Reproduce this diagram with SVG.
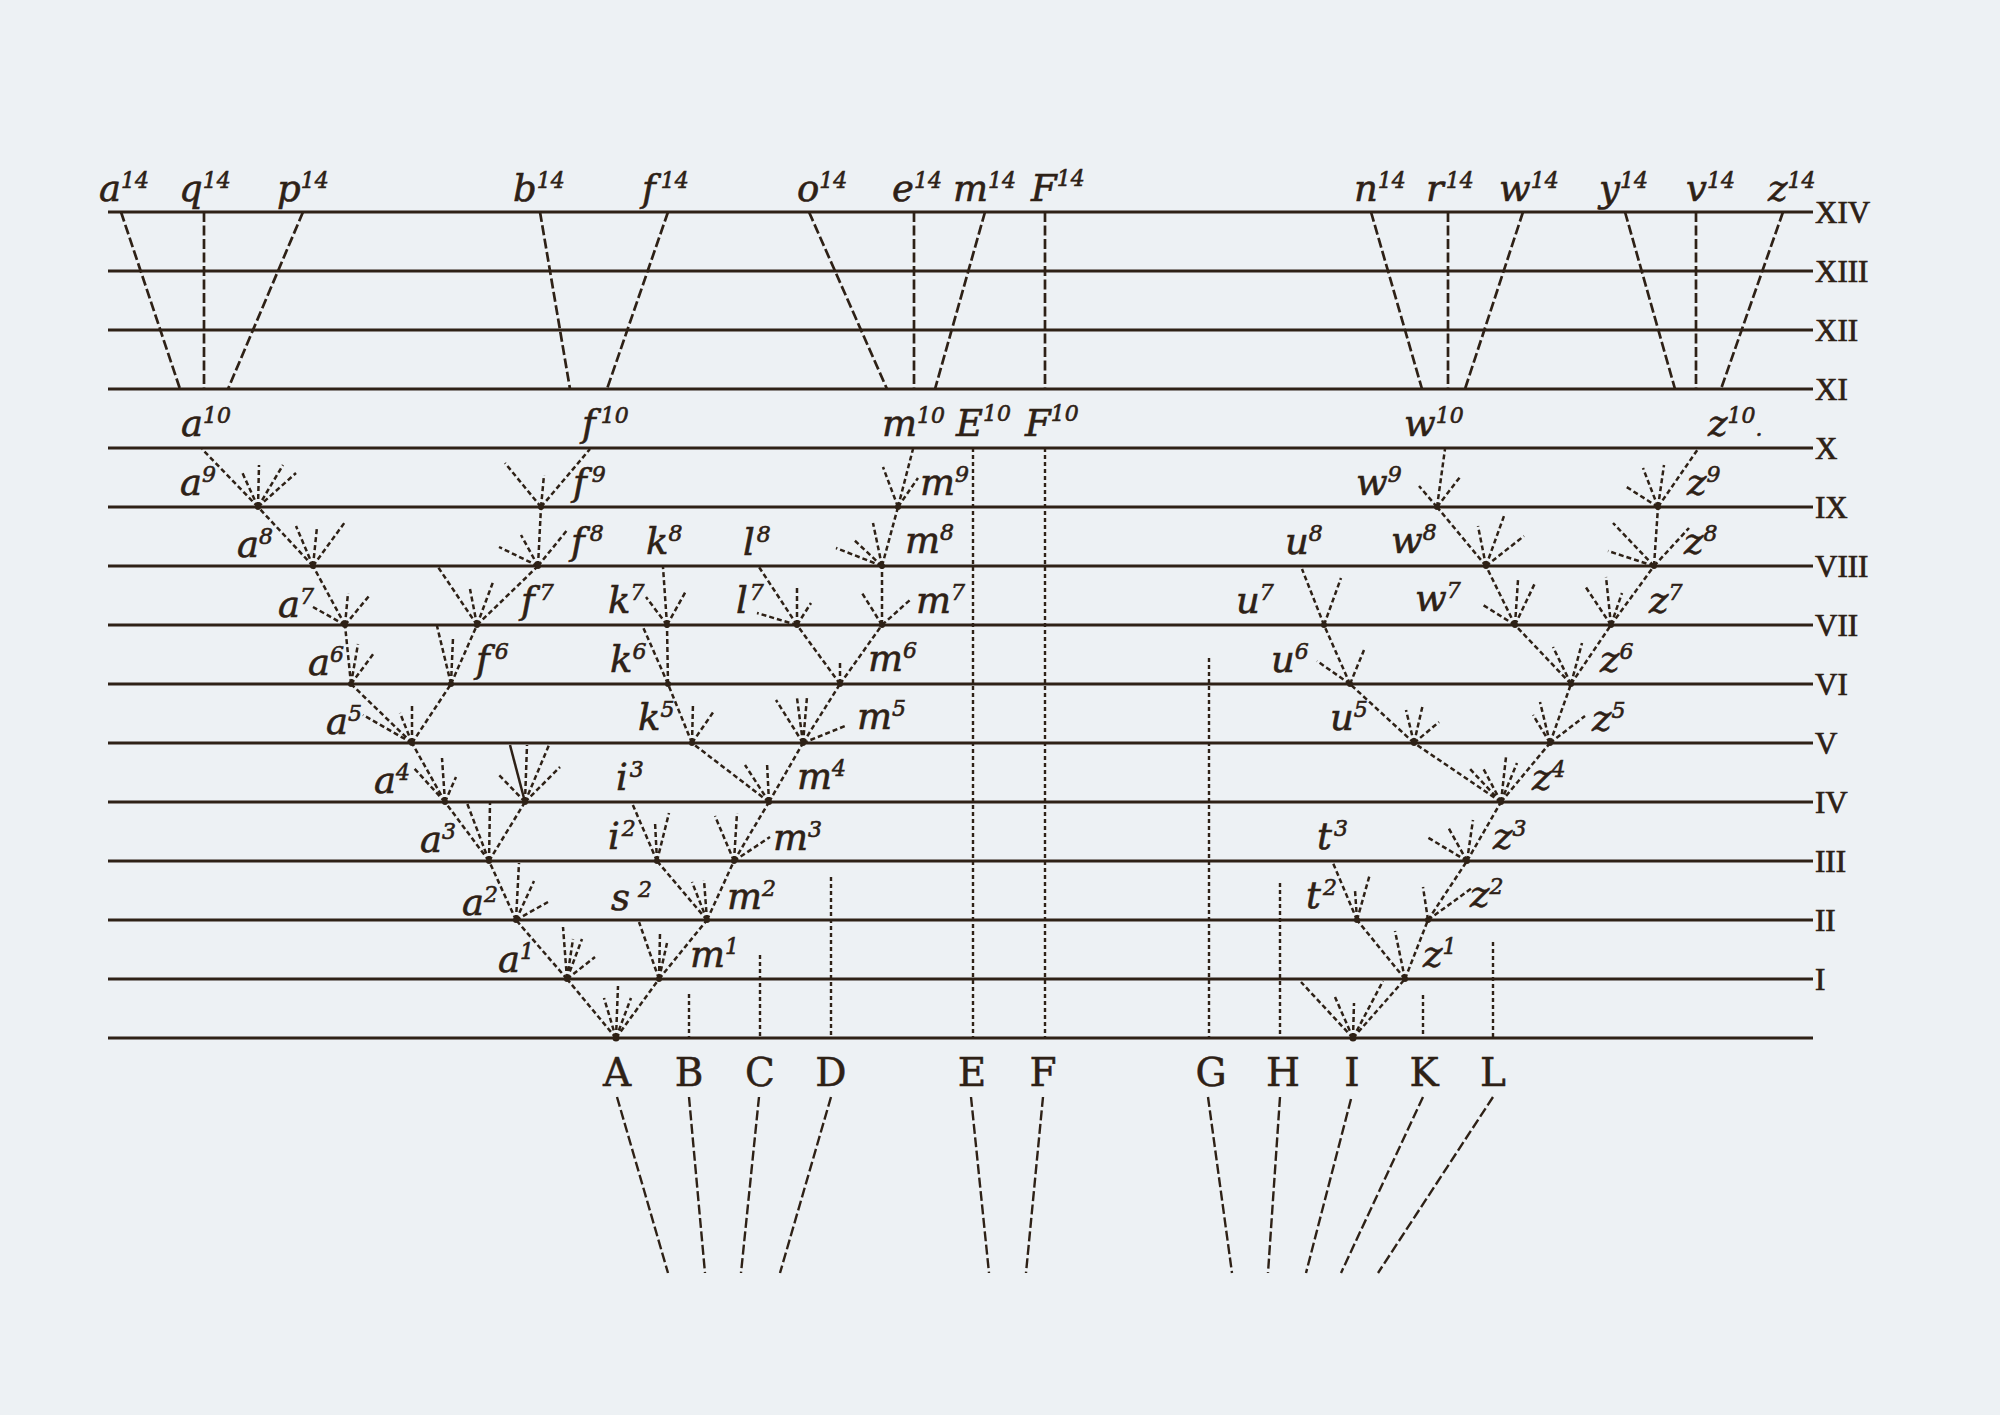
<svg xmlns="http://www.w3.org/2000/svg" width="2000" height="1415" viewBox="0 0 2000 1415">
<style>
  .bg{fill:#edf1f4}
  .h{stroke:#2e2116;stroke-width:2.9;fill:none}
  .top{stroke:#2e2116;stroke-width:2.7;stroke-dasharray:10 3.5;fill:none}
  .fan{stroke:#2e2116;stroke-width:2.5;stroke-dasharray:5 3;fill:none}
  .solid{stroke:#2e2116;stroke-width:2.5;fill:none}
  .dot{stroke:#2e2116;stroke-width:2.4;stroke-dasharray:4 3;fill:none}
  .low{stroke:#2e2116;stroke-width:2.4;stroke-dasharray:10 3.5;fill:none}
  .pt{fill:#2e2116}
  .lb{font-family:"DejaVu Serif",serif;font-style:italic;font-size:37px;fill:#2e2116;stroke:#2e2116;stroke-width:0.6}
  .sup{font-size:22px}
  .rn{font-family:"Liberation Serif",serif;font-size:31px;fill:#2e2116;stroke:#2e2116;stroke-width:0.7}
  .cap{font-family:"DejaVu Serif",serif;font-size:39px;fill:#2e2116;stroke:#2e2116;stroke-width:0.5;text-anchor:middle}
</style>
<rect class="bg" x="0" y="0" width="2000" height="1415"/>

<g id="generations">
  <path class="h" d="M108 212H1813M108 271H1813M108 330H1813M108 389H1813M108 448H1813M108 507H1813M108 566H1813M108 625H1813M108 684H1813M108 743H1813M108 802H1813M108 861H1813M108 920H1813M108 979H1813M108 1038H1813"/>
  <text class="rn" x="1815" y="223">XIV</text>
  <text class="rn" x="1815" y="282">XIII</text>
  <text class="rn" x="1815" y="341">XII</text>
  <text class="rn" x="1815" y="400">XI</text>
  <text class="rn" x="1815" y="459">X</text>
  <text class="rn" x="1815" y="518">IX</text>
  <text class="rn" x="1815" y="577">VIII</text>
  <text class="rn" x="1815" y="636">VII</text>
  <text class="rn" x="1815" y="695">VI</text>
  <text class="rn" x="1815" y="754">V</text>
  <text class="rn" x="1815" y="813">IV</text>
  <text class="rn" x="1815" y="872">III</text>
  <text class="rn" x="1815" y="931">II</text>
  <text class="rn" x="1815" y="990">I</text>
</g>

<g id="connectors">
  <path class="top" d="M121 212L180 389M204 212L204 389M303 212L228 389"/>
  <path class="top" d="M540 212L570 389M668 212L607 389"/>
  <path class="top" d="M809 212L887 389M914 212L914 389M985 212L935 389"/>
  <path class="top" d="M1045 212L1045 389"/>
  <path class="top" d="M1371 212L1422 389M1448 212L1448 389M1523 212L1465 389"/>
  <path class="top" d="M1625 212L1675 389M1696 212L1696 389M1783 212L1721 389"/>

  <path class="dot" d="M973 448V1038M1045 448V1038M1209 658V1038M1280 883V1038M689 994V1038M760 955V1038M831 877V1038M1423 995V1038M1493 942V1038"/>

  <path class="fan" d="M258 507L202 449M258 507L242 472M258 507L259 465M258 507L283 465M258 507L296 473"/>
  <path class="fan" d="M313 566L258 507M313 566L296 526M313 566L317 527M313 566L345 522"/>
  <path class="fan" d="M345 625L313 566M345 625L348 593M345 625L369 596M345 625L313 607"/>
  <path class="fan" d="M351 684L345 625M351 684L358 644M351 684L374 653"/>
  <path class="fan" d="M412 743L351 684M412 743L451 684M412 743L363 715M412 743L400 713M412 743L412 705"/>
  <path class="fan" d="M445 802L412 743M445 802L413 767M445 802L442 758M445 802L456 777"/>
  <path class="solid" d="M525 802L510 745"/>
  <path class="fan" d="M525 802L527 745M525 802L549 745M525 802L499 775M525 802L560 767"/>
  <path class="fan" d="M489 861L445 802M489 861L525 802M489 861L467 803M489 861L490 803"/>
  <path class="fan" d="M516 920L489 861M516 920L519 863M516 920L534 881M516 920L548 902"/>
  <path class="fan" d="M567 979L516 920M567 979L563 927M567 979L573 939M567 979L582 939M567 979L595 957"/>
  <path class="fan" d="M616 1038L567 979M616 1038L659 979M616 1038L604 998M616 1038L618 986M616 1038L631 998"/>
  <path class="fan" d="M659 979L707 920M659 979L639 922M659 979L660 933M659 979L667 943"/>
  <path class="fan" d="M707 920L734 861M707 920L657 861M707 920L692 882M707 920L704 880"/>
  <path class="fan" d="M657 861L632 803M657 861L655 822M657 861L669 813"/>
  <path class="fan" d="M734 861L769 802M734 861L715 816M734 861L737 813M734 861L770 837"/>
  <path class="fan" d="M769 802L803 743M769 802L692 743M769 802L745 765M769 802L767 763"/>
  <path class="fan" d="M692 743L668 684M692 743L693 703M692 743L714 711"/>
  <path class="fan" d="M803 743L840 684M803 743L776 700M803 743L797 698M803 743L807 697M803 743L845 726"/>
  <path class="fan" d="M668 684L667 625M668 684L643 627"/>
  <path class="fan" d="M840 684L882 625M840 684L797 625M840 684L840 662"/>
  <path class="fan" d="M667 625L663 567M667 625L686 591M667 625L646 597"/>
  <path class="fan" d="M797 625L759 567M797 625L797 588M797 625L811 603M797 625L757 613"/>
  <path class="fan" d="M882 625L882 566M882 625L862 593M882 625L910 600"/>
  <path class="fan" d="M882 566L898 507M882 566L873 523M882 566L853 539M882 566L836 548"/>
  <path class="fan" d="M898 507L913 449M898 507L883 467M898 507L918 478"/>
  <path class="fan" d="M451 684L477 625M451 684L437 626M451 684L453 638"/>
  <path class="fan" d="M477 625L538 566M477 625L438 567M477 625L470 589M477 625L493 582"/>
  <path class="fan" d="M538 566L541 507M538 566L499 547M538 566L521 535M538 566L568 529"/>
  <path class="fan" d="M541 507L590 449M541 507L505 463M541 507L544 475"/>

  <path class="fan" d="M1437 507L1445 449M1437 507L1419 486M1437 507L1460 477"/>
  <path class="fan" d="M1658 507L1698 449M1658 507L1625 486M1658 507L1643 468M1658 507L1664 465"/>
  <path class="fan" d="M1486 566L1437 507M1486 566L1478 526M1486 566L1504 516M1486 566L1524 536"/>
  <path class="fan" d="M1654 566L1658 507M1654 566L1613 523M1654 566L1608 551M1654 566L1689 528"/>
  <path class="fan" d="M1324 625L1302 569M1324 625L1341 578"/>
  <path class="fan" d="M1515 625L1486 566M1515 625L1483 605M1515 625L1518 580M1515 625L1535 583"/>
  <path class="fan" d="M1611 625L1654 566M1611 625L1585 586M1611 625L1606 577M1611 625L1622 593"/>
  <path class="fan" d="M1350 684L1324 625M1350 684L1317 661M1350 684L1364 650"/>
  <path class="fan" d="M1571 684L1611 625M1571 684L1515 625M1571 684L1553 647M1571 684L1582 643"/>
  <path class="fan" d="M1414 743L1350 684M1414 743L1406 710M1414 743L1423 704M1414 743L1439 722"/>
  <path class="fan" d="M1550 743L1571 684M1550 743L1533 715M1550 743L1540 702M1550 743L1585 716"/>
  <path class="fan" d="M1501 802L1550 743M1501 802L1414 743M1501 802L1470 769M1501 802L1483 768M1501 802L1506 757M1501 802L1517 763"/>
  <path class="fan" d="M1467 861L1501 802M1467 861L1427 837M1467 861L1448 827M1467 861L1473 820"/>
  <path class="fan" d="M1357 920L1333 863M1357 920L1355 890M1357 920L1370 874"/>
  <path class="fan" d="M1428 920L1467 861M1428 920L1423 887M1428 920L1472 888"/>
  <path class="fan" d="M1405 979L1428 920M1405 979L1357 920M1405 979L1395 931"/>
  <path class="fan" d="M1353 1038L1405 979M1353 1038L1301 982M1353 1038L1335 997M1353 1038L1354 1003M1353 1038L1383 981"/>

  <path class="low" d="M617 1097L668 1273M689 1097L705 1273M759 1097L741 1273M831 1097L780 1273"/>
  <path class="low" d="M971 1097L989 1273M1043 1097L1026 1273"/>
  <path class="low" d="M1208 1097L1232 1273M1280 1097L1268 1273M1351 1099L1306 1273M1423 1097L1341 1273M1493 1097L1378 1273"/>
</g>

<g id="branch-points">
  <circle class="pt" cx="258" cy="507" r="3"/><circle class="pt" cx="313" cy="566" r="3"/><circle class="pt" cx="345" cy="625" r="3"/>
  <circle class="pt" cx="351" cy="684" r="3"/><circle class="pt" cx="412" cy="743" r="3"/><circle class="pt" cx="445" cy="802" r="3"/>
  <circle class="pt" cx="525" cy="802" r="3"/><circle class="pt" cx="489" cy="861" r="3"/><circle class="pt" cx="516" cy="920" r="3"/>
  <circle class="pt" cx="567" cy="979" r="3"/><circle class="pt" cx="616" cy="1038" r="3.5"/><circle class="pt" cx="659" cy="979" r="3"/>
  <circle class="pt" cx="707" cy="920" r="3"/><circle class="pt" cx="657" cy="861" r="3"/><circle class="pt" cx="734" cy="861" r="3"/>
  <circle class="pt" cx="769" cy="802" r="3"/><circle class="pt" cx="692" cy="743" r="3"/><circle class="pt" cx="803" cy="743" r="3"/>
  <circle class="pt" cx="668" cy="684" r="3"/><circle class="pt" cx="840" cy="684" r="3"/><circle class="pt" cx="667" cy="625" r="3"/>
  <circle class="pt" cx="797" cy="625" r="3"/><circle class="pt" cx="882" cy="625" r="3"/><circle class="pt" cx="882" cy="566" r="3"/>
  <circle class="pt" cx="898" cy="507" r="3"/><circle class="pt" cx="451" cy="684" r="3"/><circle class="pt" cx="477" cy="625" r="3"/>
  <circle class="pt" cx="538" cy="566" r="3"/><circle class="pt" cx="541" cy="507" r="3"/>
  <circle class="pt" cx="1437" cy="507" r="3"/><circle class="pt" cx="1658" cy="507" r="3"/><circle class="pt" cx="1486" cy="566" r="3"/>
  <circle class="pt" cx="1654" cy="566" r="3"/><circle class="pt" cx="1324" cy="625" r="3"/><circle class="pt" cx="1515" cy="625" r="3"/>
  <circle class="pt" cx="1611" cy="625" r="3"/><circle class="pt" cx="1350" cy="684" r="3"/><circle class="pt" cx="1571" cy="684" r="3"/>
  <circle class="pt" cx="1414" cy="743" r="3"/><circle class="pt" cx="1550" cy="743" r="3"/><circle class="pt" cx="1501" cy="802" r="3"/>
  <circle class="pt" cx="1467" cy="861" r="3"/><circle class="pt" cx="1357" cy="920" r="3"/><circle class="pt" cx="1428" cy="920" r="3"/>
  <circle class="pt" cx="1405" cy="979" r="3"/><circle class="pt" cx="1353" cy="1038" r="3.5"/>
</g>

<g id="node-a14"><text class="lb" x="99" y="201">a<tspan class="sup" dy="-13">14</tspan></text></g>
<g id="node-q14"><text class="lb" x="179" y="201">q<tspan class="sup" dy="-13">14</tspan></text></g>
<g id="node-p14"><text class="lb" x="277" y="201">p<tspan class="sup" dy="-13">14</tspan></text></g>
<g id="node-b14"><text class="lb" x="513" y="201">b<tspan class="sup" dy="-13">14</tspan></text></g>
<g id="node-f14"><text class="lb" x="642" y="201">f<tspan class="sup" dx="5" dy="-13">14</tspan></text></g>
<g id="node-o14"><text class="lb" x="797" y="201">o<tspan class="sup" dy="-13">14</tspan></text></g>
<g id="node-e14"><text class="lb" x="892" y="201">e<tspan class="sup" dy="-13">14</tspan></text></g>
<g id="node-m14"><text class="lb" x="953" y="201">m<tspan class="sup" dy="-13">14</tspan></text></g>
<g id="node-F14"><text class="lb" x="1031" y="201">F<tspan class="sup" dy="-15">14</tspan></text></g>
<g id="node-n14"><text class="lb" x="1354" y="201">n<tspan class="sup" dy="-13">14</tspan></text></g>
<g id="node-r14"><text class="lb" x="1426" y="201">r<tspan class="sup" dx="2" dy="-13">14</tspan></text></g>
<g id="node-w14"><text class="lb" x="1499" y="201">w<tspan class="sup" dy="-13">14</tspan></text></g>
<g id="node-y14"><text class="lb" x="1599" y="201">y<tspan class="sup" dy="-13">14</tspan></text></g>
<g id="node-v14"><text class="lb" x="1686" y="201">v<tspan class="sup" dy="-13">14</tspan></text></g>
<g id="node-z14"><text class="lb" x="1768" y="201">z<tspan class="sup" dy="-13">14</tspan></text></g>

<g id="node-a10"><text class="lb" x="181" y="436">a<tspan class="sup" dy="-13">10</tspan></text></g>
<g id="node-f10"><text class="lb" x="582" y="436">f<tspan class="sup" dx="5" dy="-13">10</tspan></text></g>
<g id="node-m10"><text class="lb" x="882" y="436">m<tspan class="sup" dy="-13">10</tspan></text></g>
<g id="node-E10"><text class="lb" x="956" y="436">E<tspan class="sup" dy="-15">10</tspan></text></g>
<g id="node-F10"><text class="lb" x="1025" y="436">F<tspan class="sup" dy="-15">10</tspan></text></g>
<g id="node-w10"><text class="lb" x="1404" y="436">w<tspan class="sup" dy="-13">10</tspan></text></g>
<g id="node-z10"><text class="lb" x="1708" y="436">z<tspan class="sup" dy="-13">10</tspan><tspan class="sup" dy="13">.</tspan></text></g>

<g id="node-a9"><text class="lb" x="180" y="495">a<tspan class="sup" dy="-13">9</tspan></text></g>
<g id="node-f9"><text class="lb" x="573" y="495">f<tspan class="sup" dx="5" dy="-13">9</tspan></text></g>
<g id="node-m9"><text class="lb" x="920" y="495">m<tspan class="sup" dy="-13">9</tspan></text></g>
<g id="node-w9"><text class="lb" x="1356" y="495">w<tspan class="sup" dy="-13">9</tspan></text></g>
<g id="node-z9"><text class="lb" x="1687" y="495">z<tspan class="sup" dy="-13">9</tspan></text></g>

<g id="node-a8"><text class="lb" x="237" y="557">a<tspan class="sup" dy="-13">8</tspan></text></g>
<g id="node-f8"><text class="lb" x="571" y="554">f<tspan class="sup" dx="5" dy="-13">8</tspan></text></g>
<g id="node-k8"><text class="lb" x="646" y="554">k<tspan class="sup" dy="-13">8</tspan></text></g>
<g id="node-l8"><text class="lb" x="743" y="555">l<tspan class="sup" dx="2" dy="-13">8</tspan></text></g>
<g id="node-m8"><text class="lb" x="905" y="553">m<tspan class="sup" dy="-13">8</tspan></text></g>
<g id="node-u8"><text class="lb" x="1285" y="554">u<tspan class="sup" dy="-13">8</tspan></text></g>
<g id="node-w8"><text class="lb" x="1391" y="553">w<tspan class="sup" dy="-13">8</tspan></text></g>
<g id="node-z8"><text class="lb" x="1684" y="554">z<tspan class="sup" dy="-13">8</tspan></text></g>

<g id="node-a7"><text class="lb" x="278" y="617">a<tspan class="sup" dy="-13">7</tspan></text></g>
<g id="node-f7"><text class="lb" x="521" y="613">f<tspan class="sup" dx="5" dy="-13">7</tspan></text></g>
<g id="node-k7"><text class="lb" x="608" y="613">k<tspan class="sup" dy="-13">7</tspan></text></g>
<g id="node-l7"><text class="lb" x="736" y="613">l<tspan class="sup" dx="2" dy="-13">7</tspan></text></g>
<g id="node-m7"><text class="lb" x="916" y="613">m<tspan class="sup" dy="-13">7</tspan></text></g>
<g id="node-u7"><text class="lb" x="1236" y="613">u<tspan class="sup" dy="-13">7</tspan></text></g>
<g id="node-w7"><text class="lb" x="1415" y="611">w<tspan class="sup" dy="-13">7</tspan></text></g>
<g id="node-z7"><text class="lb" x="1649" y="613">z<tspan class="sup" dy="-13">7</tspan></text></g>

<g id="node-a6"><text class="lb" x="308" y="675">a<tspan class="sup" dy="-13">6</tspan></text></g>
<g id="node-f6"><text class="lb" x="476" y="672">f<tspan class="sup" dx="5" dy="-13">6</tspan></text></g>
<g id="node-k6"><text class="lb" x="610" y="672">k<tspan class="sup" dy="-13">6</tspan></text></g>
<g id="node-m6"><text class="lb" x="868" y="671">m<tspan class="sup" dy="-13">6</tspan></text></g>
<g id="node-u6"><text class="lb" x="1271" y="672">u<tspan class="sup" dy="-13">6</tspan></text></g>
<g id="node-z6"><text class="lb" x="1600" y="672">z<tspan class="sup" dy="-13">6</tspan></text></g>

<g id="node-a5"><text class="lb" x="326" y="734">a<tspan class="sup" dy="-13">5</tspan></text></g>
<g id="node-k5"><text class="lb" x="638" y="730">k<tspan class="sup" dy="-13">5</tspan></text></g>
<g id="node-m5"><text class="lb" x="857" y="729">m<tspan class="sup" dy="-13">5</tspan></text></g>
<g id="node-u5"><text class="lb" x="1330" y="730">u<tspan class="sup" dy="-13">5</tspan></text></g>
<g id="node-z5"><text class="lb" x="1592" y="731">z<tspan class="sup" dy="-13">5</tspan></text></g>

<g id="node-a4"><text class="lb" x="374" y="793">a<tspan class="sup" dy="-13">4</tspan></text></g>
<g id="node-i3"><text class="lb" x="616" y="790">i<tspan class="sup" dx="2" dy="-13">3</tspan></text></g>
<g id="node-m4"><text class="lb" x="797" y="789">m<tspan class="sup" dy="-13">4</tspan></text></g>
<g id="node-z4"><text class="lb" x="1532" y="790">z<tspan class="sup" dy="-13">4</tspan></text></g>

<g id="node-a3"><text class="lb" x="420" y="852">a<tspan class="sup" dy="-13">3</tspan></text></g>
<g id="node-i2"><text class="lb" x="608" y="849">i<tspan class="sup" dx="2" dy="-13">2</tspan></text></g>
<g id="node-m3"><text class="lb" x="773" y="850">m<tspan class="sup" dy="-13">3</tspan></text></g>
<g id="node-t3"><text class="lb" x="1317" y="849">t<tspan class="sup" dx="2" dy="-13">3</tspan></text></g>
<g id="node-z3"><text class="lb" x="1493" y="849">z<tspan class="sup" dy="-13">3</tspan></text></g>

<g id="node-a2"><text class="lb" x="462" y="915">a<tspan class="sup" dy="-13">2</tspan></text></g>
<g id="node-s2"><text class="lb" x="611" y="910">s<tspan class="sup" dx="8" dy="-13">2</tspan></text></g>
<g id="node-m2"><text class="lb" x="727" y="909">m<tspan class="sup" dy="-13">2</tspan></text></g>
<g id="node-t2"><text class="lb" x="1306" y="908">t<tspan class="sup" dx="2" dy="-13">2</tspan></text></g>
<g id="node-z2"><text class="lb" x="1470" y="907">z<tspan class="sup" dy="-13">2</tspan></text></g>

<g id="node-a1"><text class="lb" x="498" y="972">a<tspan class="sup" dy="-13">1</tspan></text></g>
<g id="node-m1"><text class="lb" x="690" y="967">m<tspan class="sup" dy="-13">1</tspan></text></g>
<g id="node-z1"><text class="lb" x="1423" y="967">z<tspan class="sup" dy="-13">1</tspan></text></g>

<g id="node-A"><text class="cap" x="617" y="1086">A</text></g>
<g id="node-B"><text class="cap" x="689" y="1086">B</text></g>
<g id="node-C"><text class="cap" x="760" y="1086">C</text></g>
<g id="node-D"><text class="cap" x="831" y="1086">D</text></g>
<g id="node-E"><text class="cap" x="972" y="1086">E</text></g>
<g id="node-F"><text class="cap" x="1043" y="1086">F</text></g>
<g id="node-G"><text class="cap" x="1211" y="1086">G</text></g>
<g id="node-H"><text class="cap" x="1283" y="1086">H</text></g>
<g id="node-I"><text class="cap" x="1352" y="1086">I</text></g>
<g id="node-K"><text class="cap" x="1424" y="1086">K</text></g>
<g id="node-L"><text class="cap" x="1493" y="1086">L</text></g>
</svg>
